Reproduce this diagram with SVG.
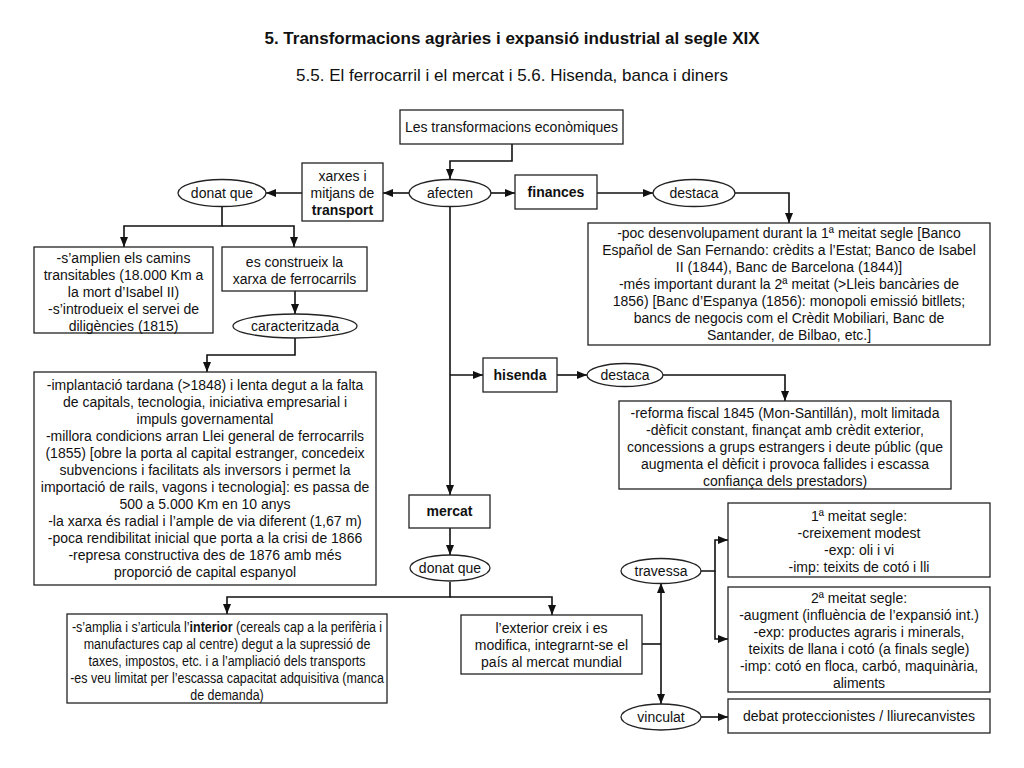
<svg xmlns="http://www.w3.org/2000/svg" width="1024" height="768" viewBox="0 0 1024 768">
<style>
.bx{fill:#fff;stroke:#222;stroke-width:1.3}
.el{fill:#fff;stroke:#222;stroke-width:1.3}
text{font-family:"Liberation Sans",Arial,Helvetica,sans-serif;font-size:14px;fill:#111;text-anchor:middle}
.b{font-weight:bold}
.h1{font-size:17px;font-weight:bold}
.h2{font-size:17px}
.c{fill:none;stroke:#111;stroke-width:1.6}
</style>
<defs>
<marker id="ar" markerUnits="userSpaceOnUse" markerWidth="10" markerHeight="8" refX="10" refY="4" orient="auto">
<path d="M0,0 L10,4 L0,8 z" fill="#111"/>
</marker>
</defs>
<rect width="1024" height="768" fill="#fff"/>
<text class="h1" x="512" y="44">5. Transformacions agràries i expansió industrial al segle XIX</text>
<text class="h2" x="512" y="81">5.5. El ferrocarril i el mercat i 5.6. Hisenda, banca i diners</text>

<g id="connectors">
<path class="c" d="M512,144 V161 H450 V179" marker-end="url(#ar)"/>
<path class="c" d="M409,193 H383" marker-end="url(#ar)"/>
<path class="c" d="M490,193 H515" marker-end="url(#ar)"/>
<path class="c" d="M597,193 H653" marker-end="url(#ar)"/>
<path class="c" d="M735,193 H789 V223" marker-end="url(#ar)"/>
<path class="c" d="M302,193 H266" marker-end="url(#ar)"/>
<path class="c" d="M222,206 V226 H124 V247" marker-end="url(#ar)"/>
<path class="c" d="M222,226 H294 V247" marker-end="url(#ar)"/>
<path class="c" d="M295,291 V314" marker-end="url(#ar)"/>
<path class="c" d="M295,338 V355 H207 V372" marker-end="url(#ar)"/>
<path class="c" d="M450,206 V495" marker-end="url(#ar)"/>
<path class="c" d="M450,375 H483" marker-end="url(#ar)"/>
<path class="c" d="M557,375 H587" marker-end="url(#ar)"/>
<path class="c" d="M663,375 H785 V401" marker-end="url(#ar)"/>
<path class="c" d="M450,528 V555" marker-end="url(#ar)"/>
<path class="c" d="M450,582 V597 H227 V614" marker-end="url(#ar)"/>
<path class="c" d="M450,597 H552 V615" marker-end="url(#ar)"/>
<path class="c" d="M642,644 H661"/>
<path class="c" d="M661,644 V583" marker-end="url(#ar)"/>
<path class="c" d="M661,644 V704" marker-end="url(#ar)"/>
<path class="c" d="M701,571 H715 V540 H728" marker-end="url(#ar)"/>
<path class="c" d="M715,571 V639 H728" marker-end="url(#ar)"/>
<path class="c" d="M701,717 H728" marker-end="url(#ar)"/>
</g>

<g id="n-top">
<rect class="bx" x="400" y="110" width="223" height="34"/>
<text x="511.5" y="132">Les transformacions econòmiques</text>
</g>
<g id="n-afecten">
<ellipse class="el" cx="450" cy="193" rx="41" ry="13.5"/>
<text x="450" y="198">afecten</text>
</g>
<g id="n-finances">
<rect class="bx" x="515" y="175" width="82" height="34"/>
<text class="b" x="556" y="197">finances</text>
</g>
<g id="n-destaca1">
<ellipse class="el" cx="694" cy="193" rx="41" ry="13.5"/>
<text x="694" y="198">destaca</text>
</g>
<g id="n-banca">
<rect class="bx" x="588" y="223" width="402" height="122"/>
<text x="789" y="238">-poc desenvolupament durant la 1ª meitat segle [Banco</text>
<text x="789" y="255">Español de San Fernando: crèdits a l’Estat; Banco de Isabel</text>
<text x="789" y="272">II (1844), Banc de Barcelona (1844)]</text>
<text x="789" y="289">-més important durant la 2ª meitat (&gt;Lleis bancàries de</text>
<text x="789" y="306">1856) [Banc d’Espanya (1856): monopoli emissió bitllets;</text>
<text x="789" y="323">bancs de negocis com el Crèdit Mobiliari, Banc de</text>
<text x="789" y="340">Santander, de Bilbao, etc.]</text>
</g>
<g id="n-transport">
<rect class="bx" x="302" y="163" width="81" height="58"/>
<text x="342.5" y="181">xarxes i</text>
<text x="342.5" y="198">mitjans de</text>
<text class="b" x="342.5" y="215">transport</text>
</g>
<g id="n-donat1">
<ellipse class="el" cx="222" cy="193" rx="44" ry="13.5"/>
<text x="222" y="198">donat que</text>
</g>
<g id="n-camins">
<rect class="bx" x="34" y="247" width="179" height="86"/>
<text x="123.5" y="263">-s’amplien els camins</text>
<text x="123.5" y="280">transitables (18.000 Km a</text>
<text x="123.5" y="297">la mort d’Isabel II)</text>
<text x="123.5" y="314">-s’introdueix el servei de</text>
<text x="123.5" y="331">diligències (1815)</text>
</g>
<g id="n-xarxa">
<rect class="bx" x="222" y="247" width="145" height="44"/>
<text x="294.5" y="267">es construeix la</text>
<text x="294.5" y="284">xarxa de ferrocarrils</text>
</g>
<g id="n-caract">
<ellipse class="el" cx="295" cy="326" rx="62" ry="12"/>
<text x="295" y="331">caracteritzada</text>
</g>
<g id="n-ferrocarril">
<rect class="bx" x="34" y="372" width="342" height="213"/>
<text x="205" y="390">-implantació tardana (&gt;1848) i lenta degut a la falta</text>
<text x="205" y="407">de capitals, tecnologia, iniciativa empresarial i</text>
<text x="205" y="424">impuls governamental</text>
<text x="205" y="441">-millora condicions arran Llei general de ferrocarrils</text>
<text x="205" y="458">(1855) [obre la porta al capital estranger, concedeix</text>
<text x="205" y="475">subvencions i facilitats als inversors i permet la</text>
<text x="205" y="492">importació de rails, vagons i tecnologia]: es passa de</text>
<text x="205" y="509">500 a 5.000 Km en 10 anys</text>
<text x="205" y="526">-la xarxa és radial i l’ample de via diferent (1,67 m)</text>
<text x="205" y="543">-poca rendibilitat inicial que porta a la crisi de 1866</text>
<text x="205" y="560">-represa constructiva des de 1876 amb més</text>
<text x="205" y="577">proporció de capital espanyol</text>
</g>
<g id="n-hisenda">
<rect class="bx" x="483" y="358" width="74" height="34"/>
<text class="b" x="520" y="380">hisenda</text>
</g>
<g id="n-destaca2">
<ellipse class="el" cx="625" cy="375" rx="38" ry="11.5"/>
<text x="625" y="380">destaca</text>
</g>
<g id="n-reforma">
<rect class="bx" x="619" y="401" width="332" height="88"/>
<text x="785" y="418">-reforma fiscal 1845 (Mon-Santillán), molt limitada</text>
<text x="785" y="435">-dèficit constant, finançat amb crèdit exterior,</text>
<text x="785" y="452">concessions a grups estrangers i deute públic (que</text>
<text x="785" y="469">augmenta el dèficit i provoca fallides i escassa</text>
<text x="785" y="486">confiança dels prestadors)</text>
</g>
<g id="n-mercat">
<rect class="bx" x="409" y="495" width="81" height="33"/>
<text class="b" x="449.5" y="516">mercat</text>
</g>
<g id="n-donat2">
<ellipse class="el" cx="450" cy="568" rx="40" ry="13"/>
<text x="450" y="573">donat que</text>
</g>
<g id="n-interior">
<rect class="bx" x="67" y="614" width="320" height="89"/>
<g transform="translate(227,0) scale(0.89,1)">
<text x="0" y="632">-s’amplia i s’articula l’<tspan class="b">interior</tspan> (cereals cap a la perifèria i</text>
<text x="0" y="649">manufactures cap al centre) degut a la supressió de</text>
<text x="0" y="666">taxes, impostos, etc. i a l’ampliació dels transports</text>
<text x="0" y="683">-es veu limitat per l’escassa capacitat adquisitiva (manca</text>
<text x="0" y="700">de demanda)</text>
</g>
</g>
<g id="n-exterior">
<rect class="bx" x="461" y="615" width="181" height="59"/>
<text x="551.5" y="633">l’exterior creix i es</text>
<text x="551.5" y="650">modifica, integrarnt-se el</text>
<text x="551.5" y="667">país al mercat mundial</text>
</g>
<g id="n-travessa">
<ellipse class="el" cx="661" cy="571" rx="40" ry="12.5"/>
<text x="661" y="576">travessa</text>
</g>
<g id="n-vinculat">
<ellipse class="el" cx="661" cy="717" rx="40" ry="13"/>
<text x="661" y="722">vinculat</text>
</g>
<g id="n-meitat1">
<rect class="bx" x="728" y="503" width="262" height="74"/>
<text x="859" y="521">1ª meitat segle:</text>
<text x="859" y="538">-creixement modest</text>
<text x="859" y="555">-exp: oli i vi</text>
<text x="859" y="572">-imp: teixits de cotó i lli</text>
</g>
<g id="n-meitat2">
<rect class="bx" x="728" y="587" width="262" height="105"/>
<text x="859" y="603">2ª meitat segle:</text>
<text x="859" y="620">-augment (influència de l’expansió int.)</text>
<text x="859" y="637">-exp: productes agraris i minerals,</text>
<text x="859" y="654">teixits de llana i cotó (a finals segle)</text>
<text x="859" y="671">-imp: cotó en floca, carbó, maquinària,</text>
<text x="859" y="688">aliments</text>
</g>
<g id="n-debat">
<rect class="bx" x="728" y="699" width="262" height="34"/>
<text x="859" y="721">debat proteccionistes / lliurecanvistes</text>
</g>
</svg>
